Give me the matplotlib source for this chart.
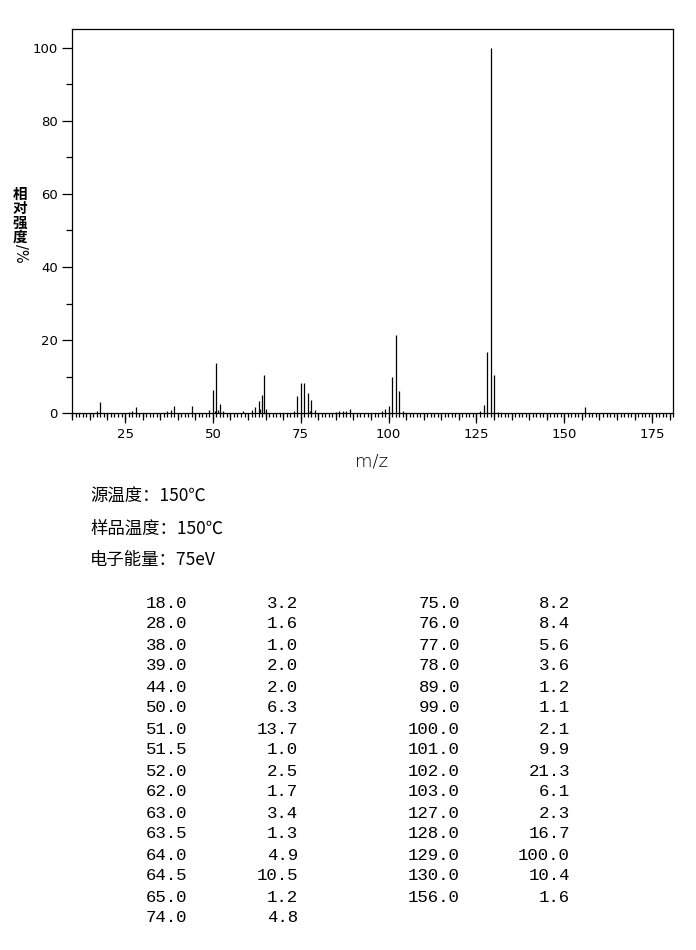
import numpy as np
import matplotlib.pyplot as plt
from matplotlib.ticker import MultipleLocator

# 峰表：m/z 和 相对强度
mz = [18.0, 28.0, 38.0, 39.0, 44.0, 50.0, 51.0, 51.5, 52.0, 62.0, 63.0, 63.5, 64.0, 64.5, 65.0, 74.0,
      75.0, 76.0, 77.0, 78.0, 89.0, 99.0, 100.0, 101.0, 102.0, 103.0, 127.0, 128.0, 129.0, 130.0, 156.0]
inten = [3.2, 1.6, 1.0, 2.0, 2.0, 6.3, 13.7, 1.0, 2.5, 1.7, 3.4, 1.3, 4.9, 10.5, 1.2, 4.8,
         8.2, 8.4, 5.6, 3.6, 1.2, 1.1, 2.1, 9.9, 21.3, 6.1, 2.3, 16.7, 100.0, 10.4, 1.6]

# 图上能看到、表里没有的小峰 (<1%)
mz_small = [17, 26, 27, 37, 49, 50.5, 53, 58.5, 61, 73, 77.5, 79, 85, 86, 87, 88, 98, 104, 126, 131]
inten_small = [0.7, 0.4, 0.7, 0.5, 0.8, 0.6, 0.5, 0.6, 0.8, 0.6, 0.5, 0.8, 0.3, 0.6, 0.6, 0.6, 0.7, 0.5, 0.7, 0.4]

ylabel_chars = ['相', '对', '强', '度']
info = ['源温度：150℃', '样品温度：150℃', '电子能量：75eV']

W, H = 696, 950
fig = plt.figure(figsize=(W / 100, H / 100), dpi=100)
ax = fig.add_axes([72.3 / W, 1 - 413.3 / H, 601 / W, 384 / H])

ax.vlines(mz, 0, inten, color='black', lw=0.9)
ax.vlines(mz_small, 0, inten_small, color='black', lw=0.9)

ax.set_xlim(10, 181)
ax.set_ylim(0, 105)
for s in ax.spines.values():
    s.set_linewidth(0.9)

ax.xaxis.set_major_locator(MultipleLocator(25))
ax.xaxis.set_minor_locator(MultipleLocator(1))
ax.yaxis.set_major_locator(MultipleLocator(20))
ax.yaxis.set_minor_locator(MultipleLocator(10))
ax.tick_params(axis='x', which='major', direction='out', length=7.5, width=0.9, pad=3, labelsize=9.5)
ax.tick_params(axis='x', which='minor', direction='out', length=3, width=0.9)
ax.tick_params(axis='y', which='major', direction='out', length=7.5, width=0.9, pad=3, labelsize=9.5)
ax.tick_params(axis='y', which='minor', direction='out', length=4, width=0.9)

# 每5个单位的中等刻度
sec = ax.secondary_xaxis('bottom')
sec.xaxis.set_major_locator(MultipleLocator(5))
sec.tick_params(direction='out', length=5, width=0.9, labelbottom=False)
sec.spines['bottom'].set_visible(False)

fig.text(372 / W, 1 - 461 / H, 'm/z', ha='center', va='center', fontsize=13, fontweight='light')

# 竖排的 y 轴标题
cjk = ['Noto Sans CJK SC', 'DejaVu Sans']
fig.text(20 / W, 1 - 186 / H, '\n'.join(ylabel_chars), ha='center', va='top', fontsize=10.5,
         linespacing=0.86, family=cjk, fontweight='bold')
fig.text(20 / W, 1 - 253 / H, '/%', ha='center', va='center', rotation=270, fontsize=10.5)

for i, t in enumerate(info):
    fig.text(90 / W, 1 - (497 + 31.5 * i) / H, t, ha='left', va='center', fontsize=12.5, family=cjk)

# 峰表
n_left = 16
mono = 'Liberation Mono'
for i in range(len(mz)):
    col = 0 if i < n_left else 1
    row = i if i < n_left else i - n_left
    y = 1 - (603 + 21 * row) / H
    x1 = [187, 460][col]
    x2 = [298, 570][col]
    fig.text(x1 / W, y, f'{mz[i]:.1f}', ha='right', va='center', fontsize=12.5, family=mono)
    fig.text(x2 / W, y, f'{inten[i]:.1f}', ha='right', va='center', fontsize=12.5, family=mono)

fig.savefig('out.png', dpi=100)
